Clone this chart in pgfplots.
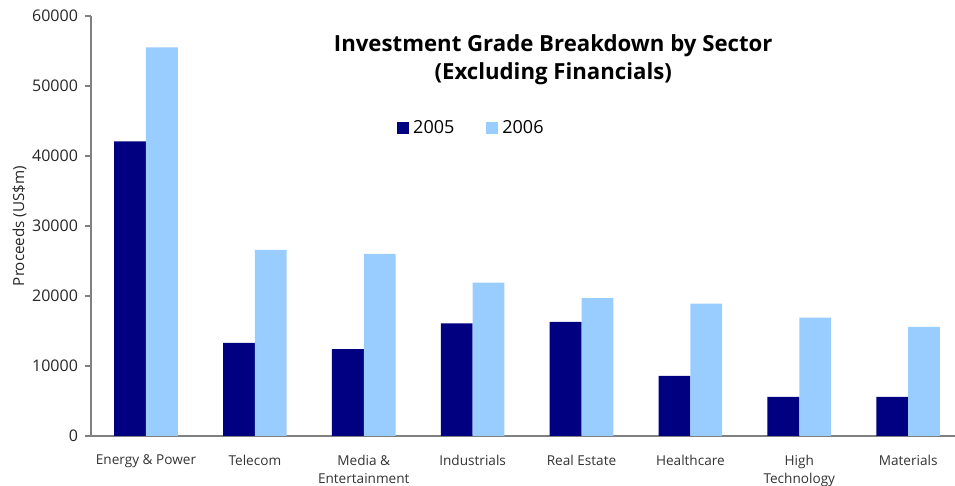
\documentclass[border=0pt]{standalone}
\usepackage{pgfplots}
\pgfplotsset{compat=1.18}
\usepackage{fontspec}
\setmainfont{Open Sans}
\definecolor{navy05}{RGB}{0,0,128}
\definecolor{light06}{RGB}{153,204,255}
\definecolor{axgray}{RGB}{128,128,128}
\begin{document}
\begin{tikzpicture}
\path[use as bounding box] (0,0) rectangle (477.5pt,243pt);
\begin{axis}[
  at={(45.5pt,25pt)}, anchor=south west,
  scale only axis, width=432pt, height=210pt,
  xmin=-0.505, xmax=7.43, ymin=0, ymax=60000,
  ybar=0pt, bar width=15.9pt,
  axis x line*=bottom, axis y line*=left,
  axis line style={axgray, line width=0.8pt},
  xtick={0,...,7},
  xticklabels={Energy \& Power, Telecom, Media \&\\Entertainment, Industrials, Real Estate, Healthcare, High\\Technology, Materials},
  xticklabel style={align=center, font=\fontsize{6.8}{9}\selectfont, text=black!80, yshift=-3pt},
  major x tick style={draw=none},
  ytick={0,10000,...,60000},
  yticklabel style={font=\fontsize{8}{9}\selectfont, text=black!85},
  /pgf/number format/assume math mode=true,
  /pgf/number format/1000 sep={},
  scaled y ticks=false,
  y tick style={axgray, line width=0.8pt},
  tick align=outside, major tick length=3pt,
  ylabel={Proceeds (US\$m)},
  ylabel style={font=\fontsize{7.6}{9}\selectfont, text=black!85, yshift=-4pt},
  legend style={at={(rel axis cs:0.347,0.733)}, anchor=west, draw=none, fill=none,
    font=\fontsize{9}{10}\selectfont, legend columns=2,
    /tikz/every even column/.append style={column sep=14pt}},
  legend image code/.code={\fill[#1] (0pt,-3pt) rectangle (6pt,3pt);},
]
\addplot[fill=navy05, draw=none] coordinates {(0,42100) (1,13300) (2,12400) (3,16100) (4,16300) (5,8600) (6,5600) (7,5600)};
\addplot[fill=light06, draw=none] coordinates {(0,55500) (1,26600) (2,26000) (3,21900) (4,19700) (5,18900) (6,16900) (7,15600)};
\legend{2005, 2006}
\node[align=center, font=\bfseries\fontsize{11.1}{14}\selectfont] at (rel axis cs:0.535,0.896) {Investment Grade Breakdown by Sector\\(Excluding Financials)};
\end{axis}
\end{tikzpicture}
\end{document}
